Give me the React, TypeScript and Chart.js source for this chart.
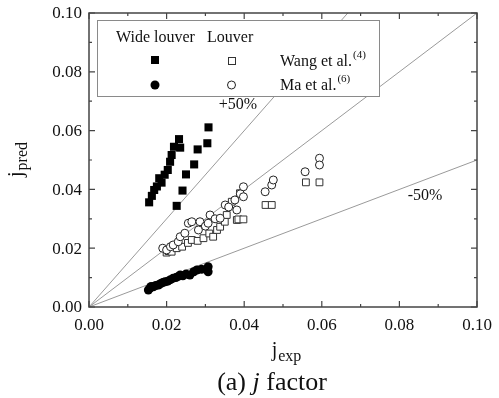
import { useEffect, useRef } from 'react';
import { Chart, registerables } from 'chart.js';

Chart.register(...registerables);

// ---- data ----
const majorTicks = [0, 0.02, 0.04, 0.06, 0.08, 0.1];
const minorTicks = [0.01, 0.03, 0.05, 0.07, 0.09];
const tickLabels = ['0.00', '0.02', '0.04', '0.06', '0.08', '0.10'];

// Wang et al. – wide louver (filled squares)
const wangWideX = [0.0155, 0.0162, 0.0168, 0.0175, 0.0181, 0.0187, 0.0195, 0.0203, 0.0209, 0.0213, 0.0219, 0.0226, 0.0232, 0.0235, 0.0241, 0.0250, 0.0271, 0.0280, 0.0305, 0.0308];
const wangWideY = [0.0356, 0.0378, 0.0398, 0.0410, 0.0438, 0.0423, 0.0450, 0.0466, 0.0494, 0.0517, 0.0545, 0.0344, 0.0571, 0.0542, 0.0396, 0.0451, 0.0485, 0.0536, 0.0557, 0.0611];

// Ma et al. – wide louver (filled circles)
const maWideX = [0.0153, 0.0157, 0.0160, 0.0166, 0.0172, 0.0179, 0.0185, 0.0190, 0.0196, 0.0203, 0.0210, 0.0217, 0.0224, 0.0230, 0.0235, 0.0242, 0.0250, 0.0260, 0.0270, 0.0278, 0.0290, 0.0307, 0.0307];
const maWideY = [0.0058, 0.0064, 0.0070, 0.0069, 0.0073, 0.0075, 0.0080, 0.0083, 0.0086, 0.0088, 0.0093, 0.0098, 0.0100, 0.0104, 0.0109, 0.0106, 0.0112, 0.0109, 0.0120, 0.0126, 0.0128, 0.0137, 0.0120];

// Wang et al. – louver (open squares)
const wangLouverX = [0.0200, 0.0205, 0.0213, 0.0226, 0.0240, 0.0255, 0.0265, 0.0280, 0.0295, 0.0310, 0.0320, 0.0330, 0.0338, 0.0350, 0.0355, 0.0368, 0.0381, 0.0385, 0.0389, 0.0398, 0.0455, 0.0471, 0.0559, 0.0594];
const wangLouverY = [0.0185, 0.0190, 0.0188, 0.0200, 0.0205, 0.0218, 0.0228, 0.0225, 0.0234, 0.0250, 0.0239, 0.0262, 0.0273, 0.0290, 0.0313, 0.0358, 0.0296, 0.0298, 0.0387, 0.0298, 0.0347, 0.0347, 0.0424, 0.0424];

// Ma et al. – louver (open circles)
const maLouverX = [0.0190, 0.0200, 0.0210, 0.0217, 0.0230, 0.0235, 0.0247, 0.0256, 0.0265, 0.0282, 0.0286, 0.0300, 0.0307, 0.0312, 0.0325, 0.0338, 0.0351, 0.0360, 0.0376, 0.0381, 0.0390, 0.0398, 0.0398, 0.0454, 0.0471, 0.0475, 0.0557, 0.0594, 0.0594];
const maLouverY = [0.0200, 0.0194, 0.0205, 0.0211, 0.0222, 0.0239, 0.0251, 0.0285, 0.0290, 0.0262, 0.0290, 0.0275, 0.0285, 0.0313, 0.0300, 0.0302, 0.0347, 0.0340, 0.0364, 0.0330, 0.0385, 0.0409, 0.0375, 0.0392, 0.0415, 0.0432, 0.0460, 0.0506, 0.0483];

// reference lines (+50%, 0%, -50%)
const plusLineX = [0, 0.0667];
const plusLineY = [0, 0.1];
const unityLineX = [0, 0.1];
const unityLineY = [0, 0.1];
const minusLineX = [0, 0.1];
const minusLineY = [0, 0.05];

const FONT = '"Liberation Serif", "Times New Roman", serif';

const pts = (xs: number[], ys: number[]) => xs.map((x, i) => ({ x, y: ys[i] }));

const decorPlugin = {
  id: 'decor',
  afterDatasetsDraw(chart: any) {
    const { ctx, chartArea, scales } = chart;
    const { left, right, top, bottom } = chartArea;
    const xs = scales.x;
    const ys = scales.y;
    ctx.save();

    // legend box
    ctx.fillStyle = '#ffffff';
    ctx.fillRect(97, 20, 282, 76);
    ctx.strokeStyle = '#8a8a8a';
    ctx.lineWidth = 1;
    ctx.strokeRect(97.5, 20.5, 282, 76);

    ctx.fillStyle = '#111';
    ctx.textBaseline = 'alphabetic';
    ctx.textAlign = 'left';
    ctx.font = `16px ${FONT}`;
    ctx.fillText('Wide louver', 116, 42);
    ctx.fillText('Louver', 207, 42);
    ctx.fillText('Wang et al.', 280, 66);
    ctx.fillText('Ma et al.', 280, 90);
    const w1 = ctx.measureText('Wang et al.').width;
    const w2 = ctx.measureText('Ma et al.').width;
    ctx.font = `11px ${FONT}`;
    ctx.fillText('(4)', 280 + w1 + 1, 58);
    ctx.fillText('(6)', 280 + w2 + 1, 82);

    // legend markers
    ctx.fillStyle = '#000';
    ctx.fillRect(151, 56, 8, 8);
    ctx.strokeStyle = '#333';
    ctx.lineWidth = 1;
    ctx.fillStyle = '#fff';
    ctx.fillRect(228, 57, 7, 7);
    ctx.strokeRect(228.5, 57.5, 7, 7);
    ctx.fillStyle = '#000';
    ctx.beginPath();
    ctx.arc(155, 85, 4.5, 0, Math.PI * 2);
    ctx.fill();
    ctx.beginPath();
    ctx.arc(231.5, 85, 4, 0, Math.PI * 2);
    ctx.fillStyle = '#fff';
    ctx.fill();
    ctx.strokeStyle = '#222';
    ctx.stroke();

    // +/-50% labels
    ctx.fillStyle = '#111';
    ctx.font = `16px ${FONT}`;
    ctx.textAlign = 'center';
    ctx.fillText('+50%', 238, 109);
    ctx.fillText('-50%', 425, 200);

    // frame
    ctx.strokeStyle = '#444';
    ctx.lineWidth = 1.5;
    ctx.strokeRect(left, top, right - left, bottom - top);

    // ticks (inside, all four sides)
    ctx.lineWidth = 1.2;
    ctx.beginPath();
    const drawTick = (v: number, len: number) => {
      const px = xs.getPixelForValue(v);
      ctx.moveTo(px, bottom);
      ctx.lineTo(px, bottom - len);
      ctx.moveTo(px, top);
      ctx.lineTo(px, top + len);
      const py = ys.getPixelForValue(v);
      ctx.moveTo(left, py);
      ctx.lineTo(left + len, py);
      ctx.moveTo(right, py);
      ctx.lineTo(right - len, py);
    };
    majorTicks.forEach((v) => drawTick(v, 6));
    minorTicks.forEach((v) => drawTick(v, 3));
    ctx.stroke();

    // tick labels
    ctx.fillStyle = '#111';
    ctx.font = `17px ${FONT}`;
    ctx.textAlign = 'center';
    ctx.textBaseline = 'alphabetic';
    majorTicks.forEach((v, i) => {
      ctx.fillText(tickLabels[i], xs.getPixelForValue(v), 330);
    });
    ctx.textAlign = 'right';
    ctx.textBaseline = 'middle';
    majorTicks.forEach((v, i) => {
      ctx.fillText(tickLabels[i], 82, ys.getPixelForValue(v) + 1);
    });

    // x title j_exp
    ctx.textBaseline = 'alphabetic';
    ctx.textAlign = 'left';
    ctx.font = `20px ${FONT}`;
    const jw = ctx.measureText('j').width;
    ctx.font = `16px ${FONT}`;
    const ew = ctx.measureText('exp').width;
    const sx = 286 - (jw + ew) / 2;
    ctx.font = `20px ${FONT}`;
    ctx.fillText('j', sx, 356);
    ctx.font = `16px ${FONT}`;
    ctx.fillText('exp', sx + jw + 1, 361);

    // y title j_pred
    ctx.save();
    ctx.translate(22, 160);
    ctx.rotate(-Math.PI / 2);
    ctx.font = `16px ${FONT}`;
    const pw = ctx.measureText('pred').width;
    const sy = -(jw + pw) / 2;
    ctx.font = `20px ${FONT}`;
    ctx.fillText('j', sy, 0);
    ctx.font = `16px ${FONT}`;
    ctx.fillText('pred', sy + jw + 1, 5);
    ctx.restore();

    // caption
    const parts: [string, string][] = [
      ['(a) ', `26px ${FONT}`],
      ['j', `italic 26px ${FONT}`],
      [' factor', `26px ${FONT}`],
    ];
    let total = 0;
    parts.forEach(([t, f]) => {
      ctx.font = f;
      total += ctx.measureText(t).width;
    });
    let cx = 272 - total / 2;
    parts.forEach(([t, f]) => {
      ctx.font = f;
      ctx.fillText(t, cx, 390);
      cx += ctx.measureText(t).width;
    });

    ctx.restore();
  },
};

export default function App() {
  const ref = useRef<HTMLCanvasElement>(null);
  useEffect(() => {
    if (!ref.current) return;
    const lineStyle = {
      type: 'scatter' as const,
      showLine: true,
      borderColor: '#9a9a9a',
      borderWidth: 1,
      pointRadius: 0,
      fill: false,
    };
    const chart = new Chart(ref.current, {
      type: 'scatter',
      data: {
        datasets: [
          { ...lineStyle, label: '+50%', data: pts(plusLineX, plusLineY), order: 10 },
          { ...lineStyle, label: '0%', data: pts(unityLineX, unityLineY), order: 10 },
          { ...lineStyle, label: '-50%', data: pts(minusLineX, minusLineY), order: 10 },
          {
            label: 'Wang et al. wide louver',
            data: pts(wangWideX, wangWideY),
            pointStyle: 'rect',
            pointRadius: 5.7,
            backgroundColor: '#000',
            borderColor: '#000',
            borderWidth: 0,
            order: 3,
          },
          {
            label: 'Ma et al. wide louver',
            data: pts(maWideX, maWideY),
            pointStyle: 'circle',
            pointRadius: 4.5,
            backgroundColor: '#000',
            borderColor: '#000',
            borderWidth: 0,
            order: 3,
          },
          {
            label: 'Wang et al. louver',
            data: pts(wangLouverX, wangLouverY),
            pointStyle: 'rect',
            pointRadius: 4.8,
            backgroundColor: '#fff',
            borderColor: '#333',
            borderWidth: 1,
            order: 2,
          },
          {
            label: 'Ma et al. louver',
            data: pts(maLouverX, maLouverY),
            pointStyle: 'circle',
            pointRadius: 4,
            backgroundColor: '#fff',
            borderColor: '#222',
            borderWidth: 1,
            order: 1,
          },
        ],
      },
      options: {
        animation: false,
        responsive: false,
        maintainAspectRatio: false,
        layout: { padding: { left: 89, right: 22, top: 13, bottom: 91 } },
        plugins: { legend: { display: false }, tooltip: { enabled: false } },
        scales: {
          x: { type: 'linear', min: 0, max: 0.1, display: false },
          y: { type: 'linear', min: 0, max: 0.1, display: false },
        },
      },
      plugins: [decorPlugin],
    });
    return () => chart.destroy();
  }, []);
  return (
    <div style={{ position: 'absolute', left: 0, top: 0, width: 499, height: 398, background: '#fff' }}>
      <canvas ref={ref} width={499} height={398} style={{ display: 'block' }} />
    </div>
  );
}
